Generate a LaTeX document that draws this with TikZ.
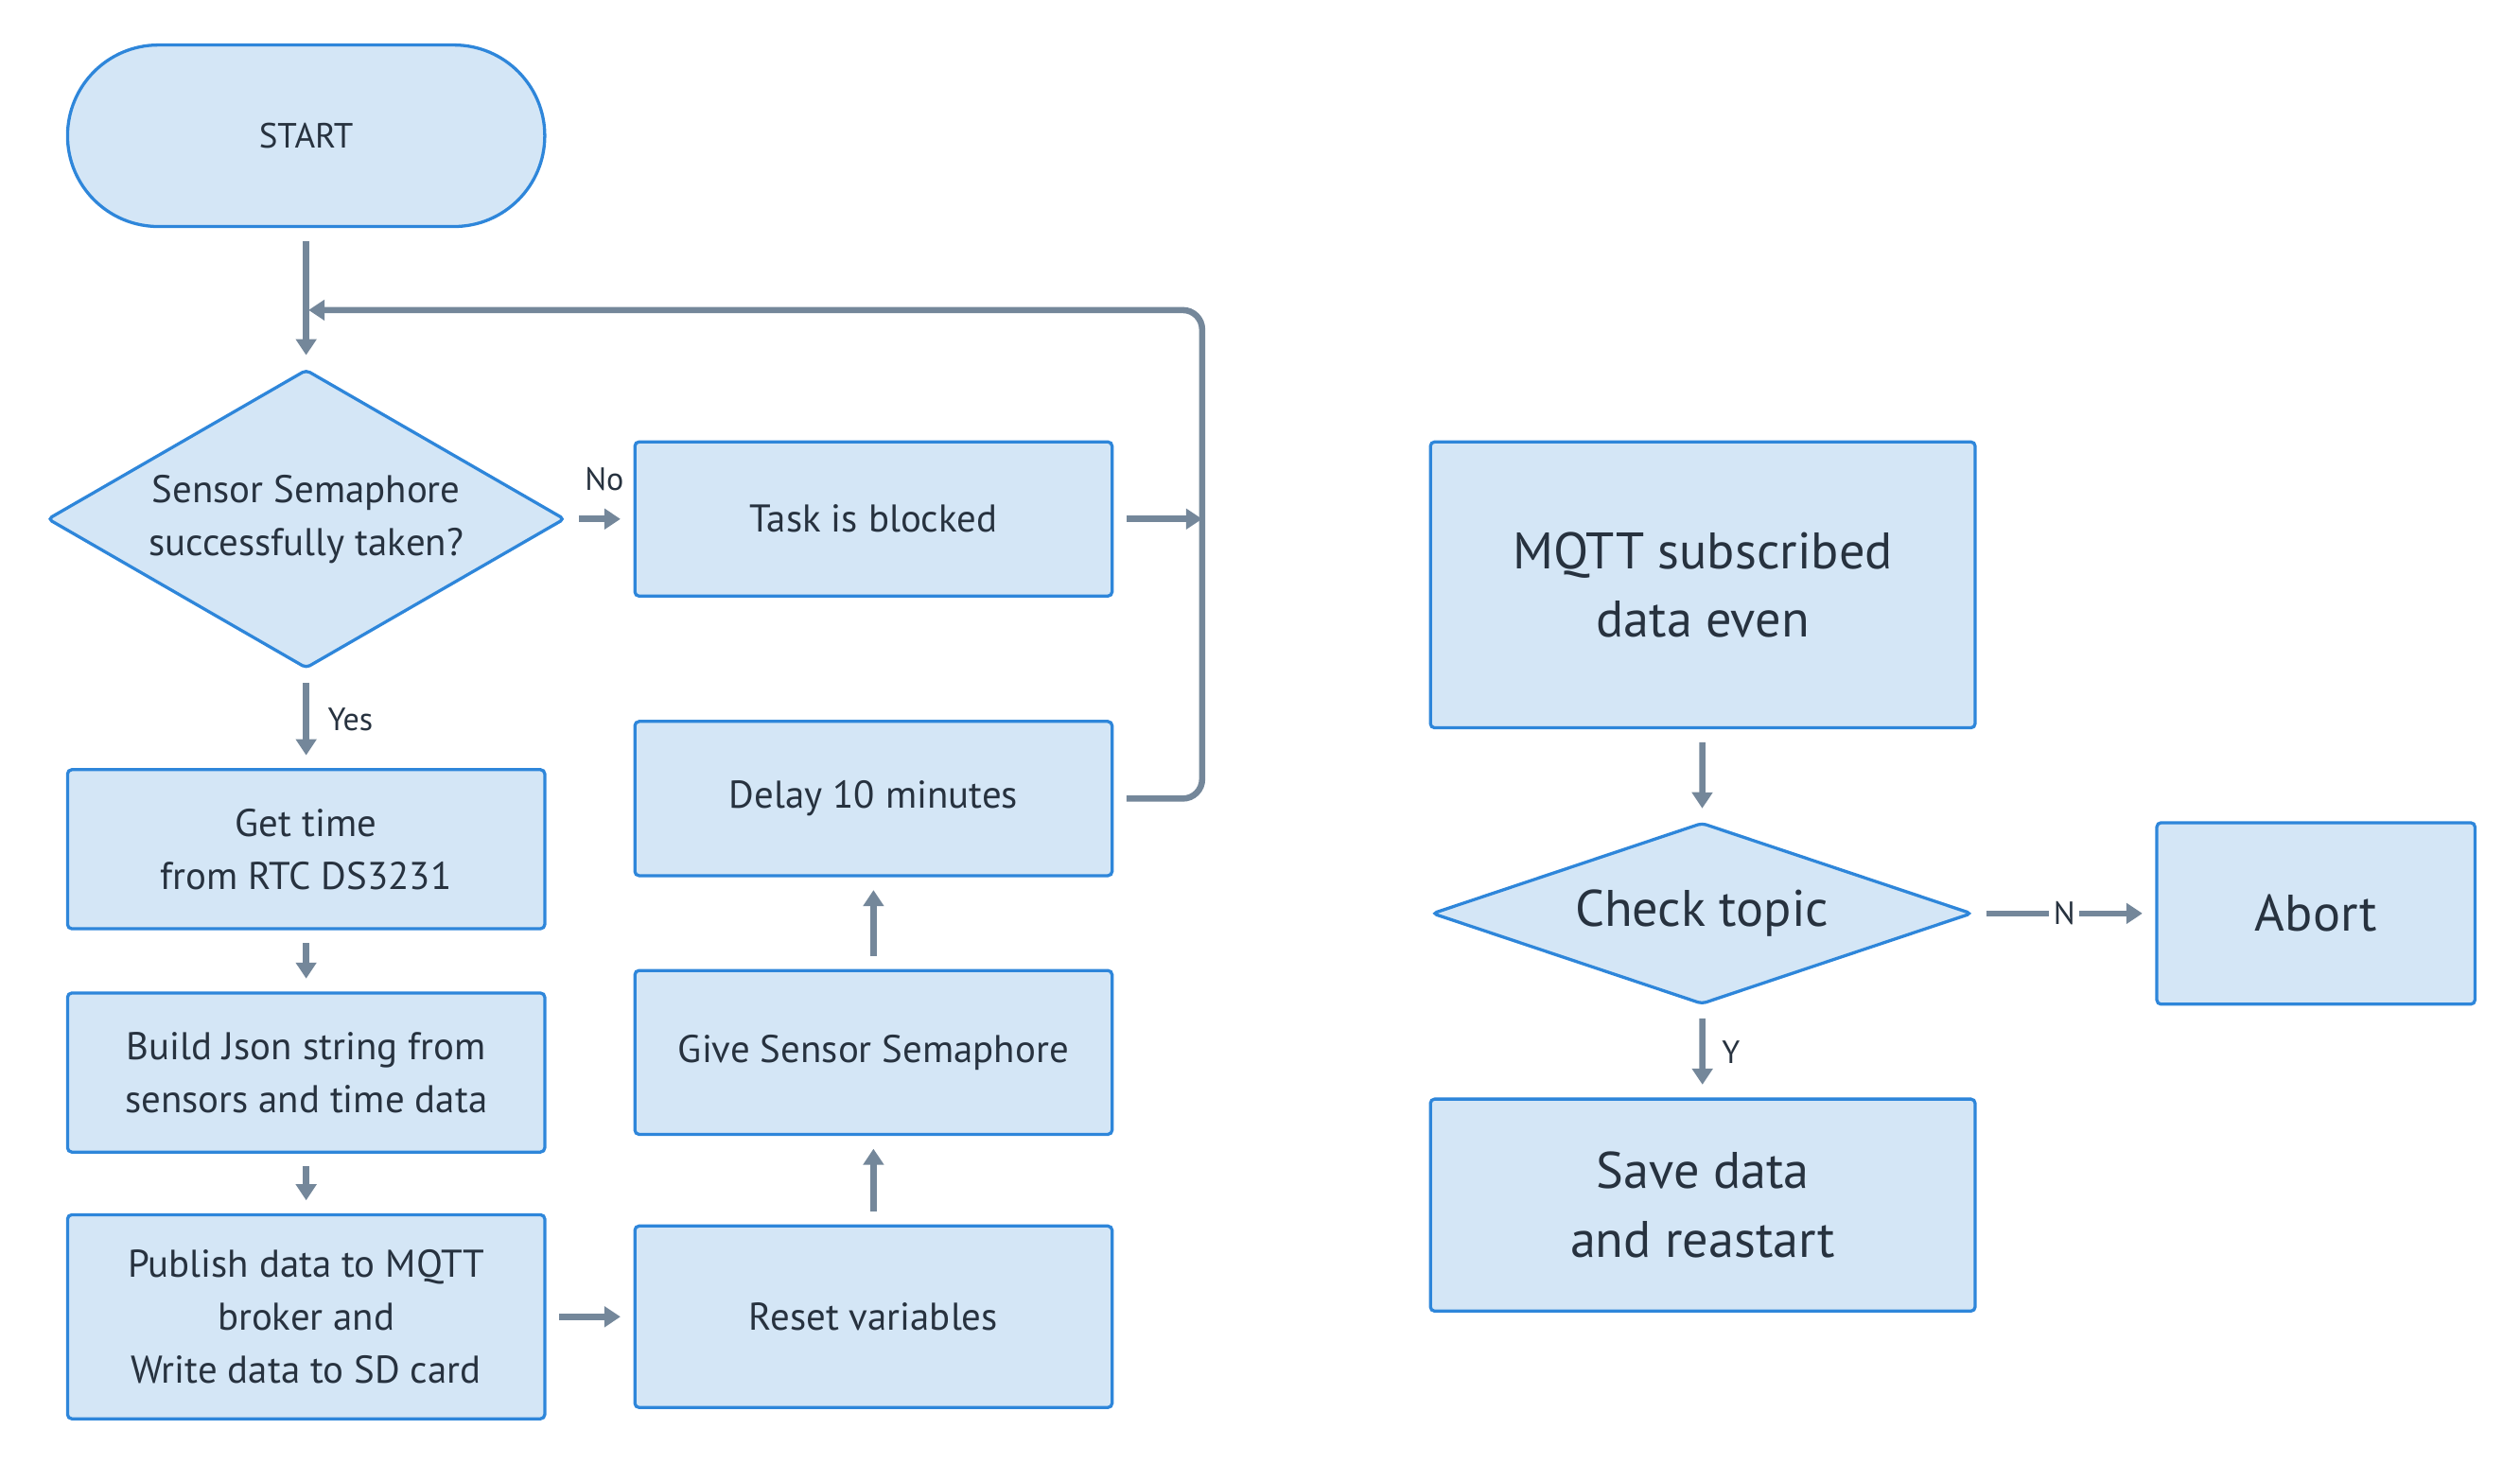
\documentclass[tikz,border=0pt]{standalone}
\usepackage{fontspec}
\setmainfont{PT Sans}
\usetikzlibrary{shapes.geometric,arrows.meta}
\definecolor{boxfill}{HTML}{D4E6F6}
\definecolor{boxline}{HTML}{2E86DA}
\definecolor{arrowgray}{HTML}{74879A}
\definecolor{textdark}{HTML}{27323F}

\begin{document}
\begin{tikzpicture}[x=0.02cm,y=-0.02cm,
  box/.style={rectangle,draw=boxline,fill=boxfill,line width=1.1pt,rounded corners=1.5pt,
    text=textdark,align=center,inner sep=0pt,minimum width=5.94cm,
    font=\fontsize{13.7}{18.7}\selectfont},
  decision/.style={diamond,draw=boxline,fill=boxfill,line width=1.1pt,rounded corners=1.5pt,
    text=textdark,align=center,inner sep=0pt,font=\fontsize{13.7}{18.7}\selectfont},
  big/.style={font=\fontsize{18.2}{24.4}\selectfont},
  flow/.style={draw=arrowgray,line width=2.2pt,-{Triangle[length=0.2cm,width=0.25cm]},
    shorten <=0.16cm,shorten >=0.16cm},
  lbl/.style={text=textdark,font=\fontsize{11.4}{13}\selectfont}]
\useasboundingbox (0,0) rectangle (1568,911);

\node[box,minimum height=2.26cm,rounded corners=1.13cm,font=\fontsize{12.4}{14}\selectfont] (start) at (190.5,84.5) {START};
\node[decision,minimum width=6.44cm,minimum height=3.72cm,aspect=1.73] (taken) at (190.5,323) {Sensor Semaphore\\successfully taken?};
\node[box,minimum height=1.92cm] (blocked) at (543.5,323) {Task is blocked};
\node[box,minimum height=1.98cm] (gettime) at (190.5,528.5) {Get time\\from RTC DS3231};
\node[box,minimum height=1.98cm] (json) at (190.5,667.5) {Build Json string from\\sensors and time data};
\node[box,minimum height=2.54cm] (publish) at (190.5,819.5) {Publish data to MQTT\\broker and\\Write data to SD card};
\node[box,minimum height=2.26cm] (reset) at (543.5,819.5) {Reset variables};
\node[box,minimum height=2.04cm] (give) at (543.5,655) {Give Sensor Semaphore};
\node[box,minimum height=1.92cm] (delay) at (543.5,497) {Delay 10 minutes};
\node[box,big,minimum width=6.78cm,minimum height=3.56cm] (mqtt) at (1059.5,364) {MQTT subscribed\\data even};
\node[decision,big,minimum width=6.72cm,minimum height=2.26cm,aspect=2.97] (topic) at (1059,568.5) {Check topic};
\node[box,big,minimum width=3.96cm,minimum height=2.26cm] (abort) at (1441,568.5) {Abort};
\node[box,big,minimum width=6.78cm,minimum height=2.64cm] (save) at (1059.5,750) {Save data\\and reastart};

\node[lbl] (no) at (376,298) {No};
\node[lbl] (yes) at (218,448) {Yes};
\node[lbl] (y) at (1077,655) {Y};
\coordinate (loop) at (748,193);
\coordinate (merge) at (190,193);

\draw[flow] (start) -- (taken);
\draw[flow] (taken) -- (blocked);
\draw[flow] (taken) -- (gettime);
\draw[flow] (gettime) -- (json);
\draw[flow] (json) -- (publish);
\draw[flow] (publish) -- (reset);
\draw[flow] (reset) -- (give);
\draw[flow] (give) -- (delay);
\draw[flow,shorten >=0pt] (blocked.east) -- (blocked.east -| loop);
\draw[flow,rounded corners=0.24cm,shorten >=0.04cm] (delay.east) -- (delay.east -| loop) -- (loop) -- (merge);
\draw[flow] (mqtt) -- (topic);
\draw[flow] (topic) -- node[lbl,fill=white,inner sep=1.5pt] (n) {N} (abort);
\draw[flow] (topic) -- (save);
\end{tikzpicture}
\end{document}
